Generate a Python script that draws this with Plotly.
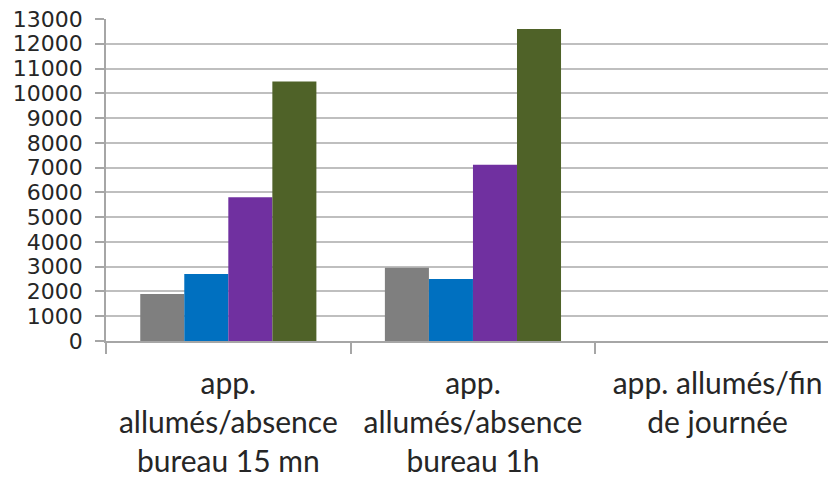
import plotly.graph_objects as go

categories = [
    "app.<br>allumés/absence<br>bureau 15 mn",
    "app.<br>allumés/absence<br>bureau 1h",
    "app. allumés/fin<br>de journée",
]
series_names = ["Série 1", "Série 2", "Série 3", "Série 4"]
series_values = [
    [1900, 2960, None],
    [2700, 2500, None],
    [5800, 7120, None],
    [10480, 12600, None],
]
colors = ["#7F7F7F", "#0070C0", "#7030A0", "#4F6228"]
y_ticks = list(range(0, 13001, 1000))

fig = go.Figure()
for name, vals, col in zip(series_names, series_values, colors):
    fig.add_trace(go.Bar(x=categories, y=vals, name=name,
                         marker=dict(color=col, line=dict(width=0))))

fig.update_layout(
    width=828, height=469,
    margin=dict(l=98, r=0, t=11, b=136, autoexpand=False),
    paper_bgcolor="white", plot_bgcolor="white",
    barmode="group", bargap=0.28, bargroupgap=0,
    showlegend=False,
    font=dict(family="Lato, sans-serif", color="#262626"),
)
fig.update_xaxes(
    range=[-0.5, 2.484], automargin=False,
    showline=True, linecolor="#A6A6A6", linewidth=1.5,
    ticks="outside", tickson="boundaries", ticklen=11, tickcolor="#A6A6A6", tickwidth=1.5,
    showgrid=False,
    tickfont=dict(size=30, family="Lato, sans-serif", color="#262626"),
    ticklabelstandoff=15,
)
fig.update_yaxes(
    range=[0, 13000], automargin=False,
    tickvals=y_ticks, ticktext=[str(v) for v in y_ticks],
    ticklabeloverflow="allow",
    showline=True, linecolor="#A6A6A6", linewidth=1.5,
    ticks="outside", ticklen=9, tickcolor="#A6A6A6", tickwidth=1.5,
    showgrid=True, gridcolor="#BFBFBF", gridwidth=1.5,
    zeroline=False,
    tickfont=dict(size=22, family="DejaVu Sans, sans-serif", color="#262626"),
    ticklabelstandoff=8,
)
fig.write_html("out.html")
